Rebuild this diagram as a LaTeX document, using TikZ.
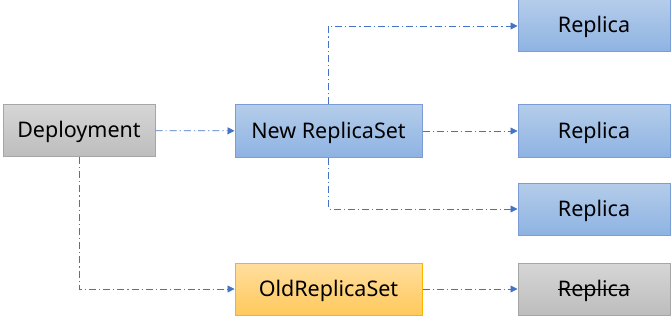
\documentclass[tikz,border=0pt]{standalone}
\usepackage{fontspec}
\setmainfont{Noto Sans}
\usetikzlibrary{arrows.meta}
\definecolor{linkblue}{HTML}{4472C4}
\definecolor{graytop}{HTML}{D6D6D6}
\definecolor{graybot}{HTML}{BDBDBD}
\definecolor{bluetop}{HTML}{B4CCEA}
\definecolor{bluebot}{HTML}{8EB3E2}
\definecolor{oldtop}{HTML}{FFDE9E}
\definecolor{oldbot}{HTML}{FFC95C}
% struck-through text
\newcommand\strikeword[1]{\setbox0\hbox{#1}\rlap{\rule[0.3em]{\wd0}{0.7pt}}\box0}
\tikzset{
  box/.style={draw,line width=1pt,minimum width=152pt,minimum height=52pt,inner sep=0pt,
    text height=14pt,text depth=0pt,font=\fontsize{21.5}{24}\selectfont},
  graybox/.style={box,draw=black!35,top color=graytop,bottom color=graybot},
  bluebox/.style={box,draw=linkblue!70,top color=bluetop,bottom color=bluebot},
  oldbox/.style={box,draw=orange!60!yellow,top color=oldtop,bottom color=oldbot},
  link/.style={linkblue,line width=0.8pt,dash pattern=on 7pt off 3pt on 1.2pt off 3pt,
    -{Triangle[length=7pt,width=7pt]}}
}
\begin{document}
\begin{tikzpicture}[x=1pt,y=1pt]
\useasboundingbox (0,0) rectangle (671,319);
\node[graybox] (deploy) at (79,188.5) {Deployment};
\node[bluebox,minimum width=187pt] (newrs) at (328.5,188) {New ReplicaSet};
\node[oldbox,minimum width=187pt] (oldrs) at (328.5,30) {OldReplicaSet};
\foreach \n/\y in {r1/293,r2/188,r3/110}
  \node[bluebox] (\n) at (594,\y) {Replica};
\node[graybox] (r4) at (594,30) {\strikeword{Replica}};
\draw[link] (deploy) -- (newrs);
\draw[link] (deploy.south) |- (oldrs);
\draw[link] (newrs.north) |- (r1);
\draw[link] (newrs) -- (r2);
\draw[link] (newrs.south) |- (r3);
\draw[link] (oldrs) -- (r4);
\end{tikzpicture}
\end{document}
